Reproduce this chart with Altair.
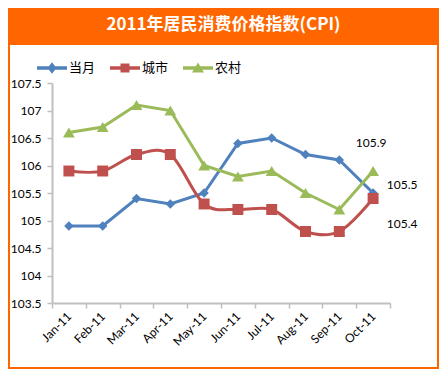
import altair as alt
import pandas as pd

months = ["Jan-11", "Feb-11", "Mar-11", "Apr-11", "May-11",
          "Jun-11", "Jul-11", "Aug-11", "Sep-11", "Oct-11"]
series_names = ["当月", "城市", "农村"]
cur = [104.9, 104.9, 105.4, 105.3, 105.5, 106.4, 106.5, 106.2, 106.1, 105.5]
city = [105.9, 105.9, 106.2, 106.2, 105.3, 105.2, 105.2, 104.8, 104.8, 105.4]
rural = [106.6, 106.7, 107.1, 107.0, 106.0, 105.8, 105.9, 105.5, 105.2, 105.9]
y_ticks = [103.5, 104, 104.5, 105, 105.5, 106, 106.5, 107, 107.5]
title_text = "2011年居民消费价格指数(CPI)"

colors = ["#4F81BD", "#C0504D", "#9BBB59"]
orange = "#FF6600"
axis_gray = "#BFBFBF"

rows = []
for name, vals in zip(series_names, [cur, city, rural]):
    for m, v in zip(months, vals):
        rows.append({"month": m, "series": name, "value": v})
df = pd.DataFrame(rows)
deco = pd.DataFrame({"t": [title_text]})

W, H = 338, 220
PL, PT, PR, PB = 44, 75, 49, 66

x_enc = alt.X("month:N", sort=months,
              scale=alt.Scale(type="band", domain=months, paddingInner=0, paddingOuter=0),
              axis=alt.Axis(title=None, tickBand="extent", labelAngle=-45,
                            labelAlign="right", labelBaseline="middle",
                            labelFont="Lato", labelFontSize=12, labelColor="black",
                            domainColor=axis_gray, domainWidth=2,
                            tickColor=axis_gray, tickWidth=1.5, tickSize=5,
                            labelPadding=6, grid=False))
y_enc = alt.Y("value:Q",
              scale=alt.Scale(domain=[103.5, 107.5], nice=False, zero=False),
              axis=alt.Axis(title=None, values=y_ticks, labelExpr="'' + datum.value",
                            labelFont="Lato", labelFontSize=12, labelColor="black",
                            domainColor=axis_gray, domainWidth=2,
                            tickColor=axis_gray, tickWidth=1.5, tickSize=5,
                            labelPadding=6, grid=False))

base = alt.Chart(df)

banner = alt.Chart(deco).mark_rect(color=orange).encode(
    x=alt.value(-PL), x2=alt.value(W + PR), y=alt.value(-PT), y2=alt.value(-39))
border = alt.Chart(deco).mark_rect(filled=False, stroke=orange, strokeWidth=2).encode(
    x=alt.value(-PL + 1), x2=alt.value(W + PR - 1), y=alt.value(-39), y2=alt.value(H + PB - 1))
title = alt.Chart(deco).mark_text(color="white", font="Noto Sans CJK SC", fontWeight="bold",
                                  fontSize=17, align="center", baseline="middle").encode(
    text="t:N", x=alt.value((W + PL + PR) / 2 - PL), y=alt.value(-58))

interp = {"当月": "linear", "城市": "cardinal", "农村": "linear"}
shapes = {"当月": "diamond", "城市": "square", "农村": "triangle-up"}
sizes = {"当月": 90, "城市": 120, "农村": 140}

layers = [banner, border, title]
for name, col in zip(series_names, colors):
    sub = base.transform_filter(alt.datum.series == name)
    layers.append(sub.mark_line(color=col, strokeWidth=3, interpolate=interp[name]).encode(x=x_enc, y=y_enc))
for name, col in zip(series_names, colors):
    sub = base.transform_filter(alt.datum.series == name)
    layers.append(sub.mark_point(filled=True, opacity=1, color=col, shape=shapes[name],
                                 size=sizes[name]).encode(x=x_enc, y=y_enc))

offsets = {"当月": (29, -8), "城市": (29, 25), "农村": (-2, -28)}
for name in series_names:
    sub = base.transform_filter((alt.datum.series == name) & (alt.datum.month == months[-1]))
    dx, dy = offsets[name]
    layers.append(sub.mark_text(font="Lato", fontSize=12, color="black", dx=dx, dy=dy).encode(
        x=x_enc, y=y_enc, text=alt.Text("value:Q", format=".1f")))

bar_p = "M-1,-0.12H1V0.12H-1Z"
legend_paths = [
    bar_p + "M0,-0.38L0.3,0L0,0.38L-0.3,0Z",
    bar_p + "M-0.3,-0.3H0.3V0.3H-0.3Z",
    bar_p + "M0,-0.36L0.4,0.3H-0.4Z",
]
leg = alt.Legend(orient="none", legendX=-15, legendY=-30, direction="horizontal", title=None,
                 symbolSize=900, labelFont="Noto Sans CJK SC", labelFontSize=13,
                 labelColor="black", labelOffset=2, columnPadding=14, symbolStrokeWidth=0)
legend_layer = base.transform_filter("false").mark_point(filled=True, opacity=1).encode(
    x=x_enc, y=y_enc,
    color=alt.Color("series:N", scale=alt.Scale(domain=series_names, range=colors), legend=leg),
    shape=alt.Shape("series:N", scale=alt.Scale(domain=series_names, range=legend_paths), legend=leg),
)
layers.append(legend_layer)

chart = alt.layer(*layers).properties(
    width=W, height=H,
    padding={"left": PL, "top": PT, "right": PR, "bottom": PB},
    autosize=alt.AutoSizeParams(type="none"),
    background="white",
).configure_view(strokeWidth=0)

chart.save("out.html", embed_options={"renderer": "svg", "actions": False})
